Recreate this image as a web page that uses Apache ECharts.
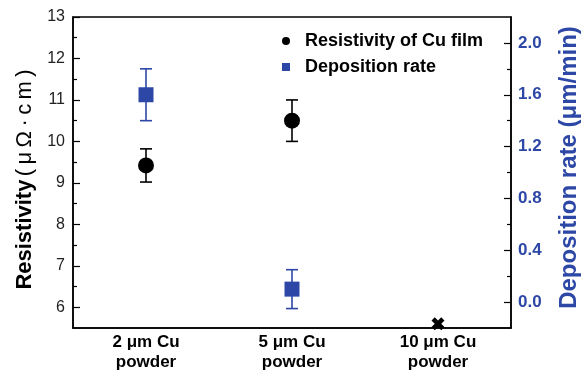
<!DOCTYPE html>
<html>
<head>
<meta charset="utf-8">
<script src="https://cdn.jsdelivr.net/npm/echarts@6/dist/echarts.min.js"></script>
<style>html,body{margin:0;padding:0;background:#fff}#c{width:583px;height:373px}</style>
</head>
<body>
<div id="c"></div>
<script>
const categories = ['2 \u03bcm Cu\npowder', '5 \u03bcm Cu\npowder', '10 \u03bcm Cu\npowder'];
const resistivity = [9.42, 10.5, null];
const resistivityErr = [0.4, 0.5, null];
const depositionRate = [1.6, 0.1, null];
const depositionErr = [0.2, 0.15, null];
const noFilmMarker = [null, null, 5.6];
const leftMajorTicks = [6, 7, 8, 9, 10, 11, 12, 13];
const leftMinorTicks = [6.5, 7.5, 8.5, 9.5, 10.5, 11.5, 12.5];
const rightMajorTicks = [0, 0.4, 0.8, 1.2, 1.6, 2.0];
const rightMinorTicks = [0.2, 0.6, 1.0, 1.4, 1.8];

const BLUE = '#2d47a6';
const FONT = 'Arial, "Liberation Sans", sans-serif';

function errData(vals, errs) {
  const out = [];
  vals.forEach((v, i) => { if (v != null) out.push([i, v - errs[i], v + errs[i]]); });
  return out;
}
function errRender(color) {
  return function (params, api) {
    const lo = api.coord([api.value(0), api.value(1)]);
    const hi = api.coord([api.value(0), api.value(2)]);
    const hw = 6;
    const st = { stroke: color, lineWidth: 1.6 };
    return { type: 'group', children: [
      { type: 'line', shape: { x1: lo[0], y1: lo[1], x2: hi[0], y2: hi[1] }, style: st },
      { type: 'line', shape: { x1: lo[0] - hw, y1: lo[1], x2: lo[0] + hw, y2: lo[1] }, style: st },
      { type: 'line', shape: { x1: hi[0] - hw, y1: hi[1], x2: hi[0] + hw, y2: hi[1] }, style: st }
    ]};
  };
}

const chart = echarts.init(document.getElementById('c'), null, { renderer: 'canvas' });
chart.setOption({
  animation: false,
  textStyle: { fontFamily: FONT },
  grid: { left: 73, right: 72, top: 17, bottom: 45, containLabel: false, outerBoundsMode: 'none', show: true, borderColor: '#000', borderWidth: 1.5, backgroundColor: 'transparent' },
  legend: {
    orient: 'vertical', left: 277, top: 26, itemWidth: 8, itemHeight: 8, itemGap: 6,
    textStyle: { fontFamily: FONT, fontWeight: 'bold', fontSize: 18, color: '#000', padding: [0, 0, 0, 10], lineHeight: 20 },
    data: [
      { name: 'Resistivity of Cu film', icon: 'circle', itemStyle: { color: '#000', opacity: 1 } },
      { name: 'Deposition rate', icon: 'rect', itemStyle: { color: BLUE, opacity: 1 } }
    ]
  },
  xAxis: {
    type: 'category', data: categories,
    axisLine: { onZero: false, lineStyle: { color: '#000', width: 1.5 } },
    axisTick: { inside: true, alignWithLabel: true, length: 6, lineStyle: { color: '#000', width: 1.2 } },
    axisLabel: { fontFamily: FONT, fontWeight: 'bold', fontSize: 17, color: '#000', lineHeight: 20, margin: 4 },
    splitLine: { show: false }
  },
  yAxis: [
    {
      type: 'value', position: 'left', min: 5.5, max: 13,
      axisLine: { show: true, lineStyle: { color: '#000', width: 1.5 } },
      axisTick: { show: true, inside: true, length: 7, customValues: leftMajorTicks, lineStyle: { color: '#000', width: 1.2 } },
      axisLabel: { customValues: leftMajorTicks, fontFamily: FONT, fontSize: 16, color: '#222', margin: 8 },
      splitLine: { show: false },
      name: '{b|Resistivity} {n|(\u2009\u03bc\u2009\u03a9\u2009\u00b7\u2009c\u2009m\u2009)}', nameLocation: 'middle', nameGap: 37, nameRotate: 90,
      nameTextStyle: { padding: [0, 14, 0, 0], rich: {
        b: { fontFamily: FONT, fontWeight: 'bold', fontSize: 22, color: '#000' },
        n: { fontFamily: FONT, fontSize: 22, color: '#000' }
      } }
    },
    {
      type: 'value', position: 'left', min: 5.5, max: 13,
      axisLine: { show: false },
      axisTick: { show: true, inside: true, length: 4, customValues: leftMinorTicks, lineStyle: { color: '#000', width: 1.2 } },
      axisLabel: { show: false }, splitLine: { show: false }
    },
    {
      type: 'value', position: 'right', min: -0.2, max: 2.2,
      axisLine: { show: true, lineStyle: { color: '#000', width: 1.5 } },
      axisTick: { show: true, inside: true, length: 7, customValues: rightMajorTicks, lineStyle: { color: '#000', width: 1.2 } },
      axisLabel: { customValues: rightMajorTicks, formatter: v => v.toFixed(1), fontFamily: FONT, fontWeight: 'bold', fontSize: 17, color: BLUE, margin: 7 },
      splitLine: { show: false },
      name: 'Deposition rate (\u03bcm/min)', nameLocation: 'middle', nameGap: 46, nameRotate: 90,
      nameTextStyle: { fontFamily: FONT, fontWeight: 'bold', fontSize: 24, color: BLUE, padding: [0, 0, 0, 10] }
    },
    {
      type: 'value', position: 'right', min: -0.2, max: 2.2,
      axisLine: { show: false },
      axisTick: { show: true, inside: true, length: 4, customValues: rightMinorTicks, lineStyle: { color: '#000', width: 1.2 } },
      axisLabel: { show: false }, splitLine: { show: false }
    }
  ],
  series: [
    { type: 'custom', name: 'resErr', yAxisIndex: 0, renderItem: errRender('#000'), data: errData(resistivity, resistivityErr), encode: { x: 0, y: [1, 2] }, z: 2, silent: true },
    { type: 'custom', name: 'depErr', yAxisIndex: 2, renderItem: errRender(BLUE), data: errData(depositionRate, depositionErr), encode: { x: 0, y: [1, 2] }, z: 2, silent: true },
    { type: 'scatter', name: 'Resistivity of Cu film', yAxisIndex: 0, data: resistivity, symbol: 'circle', symbolSize: 16, itemStyle: { color: '#000', opacity: 1 }, z: 5 },
    { type: 'scatter', name: 'Deposition rate', yAxisIndex: 2, data: depositionRate, symbol: 'rect', symbolSize: 15, itemStyle: { color: BLUE, opacity: 1 }, z: 5 },
    { type: 'scatter', name: 'noFilm', yAxisIndex: 0, data: noFilmMarker,
      symbol: 'path://M0,3 L3,0 L6,3 L9,0 L12,3 L9,6 L12,9 L9,12 L6,9 L3,12 L0,9 L3,6 Z', symbolSize: 13, itemStyle: { color: '#000', opacity: 1 }, z: 6 }
  ]
});
</script>
</body>
</html>
